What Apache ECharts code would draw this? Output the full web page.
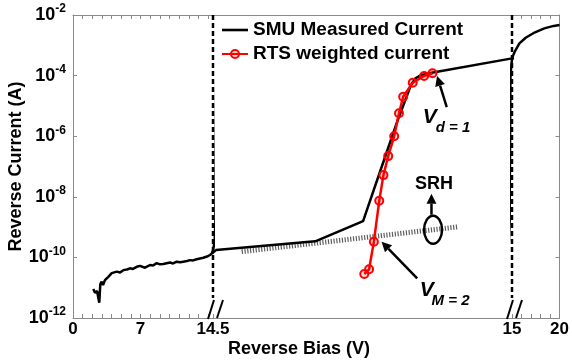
<!DOCTYPE html>
<html>
<head>
<meta charset="utf-8">
<script src="https://cdn.jsdelivr.net/npm/echarts@6/dist/echarts.min.js"></script>
<style>
html, body { margin: 0; padding: 0; background: #fff; }
#chart { width: 572px; height: 362px; }
</style>
</head>
<body>
<div id="chart"></div>
<script>
// SMU measured current: reverse bias (V) and current (A)
const smuBias = [2.10, 2.28, 2.49, 2.72, 2.83, 2.97, 3.11, 3.31, 3.66, 4.01,
    4.53, 4.87, 5.21, 5.59, 5.90, 6.21, 6.60, 6.94, 7.46, 7.98,
    8.29, 8.67, 9.01, 9.35, 10.05, 10.36, 10.74, 11.08, 11.42, 11.81,
    12.12, 12.43, 12.81, 13.50, 13.88, 14.19, 14.5,
    14.505, 14.671, 14.751, 14.786, 14.809, 14.831, 14.839, 14.849, 14.868, 15.0,
    15.29, 15.78, 16.44, 17.42, 18.40, 19.38, 20];
const smuCurrent = [9.1e-12, 6.8e-12, 7.8e-12, 3.2e-12, 1.32e-11, 1.58e-11, 1.23e-11, 1.78e-11, 2.29e-11, 3.02e-11,
    3.39e-11, 3.16e-11, 3.8e-11, 3.98e-11, 4.37e-11, 4.17e-11, 4.9e-11, 5.25e-11, 4.57e-11, 5.62e-11,
    5.37e-11, 6.46e-11, 5.89e-11, 6.03e-11, 6.76e-11, 6.31e-11, 7.24e-11, 6.92e-11, 7.24e-11, 7.59e-11,
    8.13e-11, 7.94e-11, 8.71e-11, 9.77e-11, 1.07e-10, 1.2e-10, 1.45e-10,
    1.74e-10, 3.39e-10, 1.58e-9, 1.64e-7, 3.43e-6, 4.9e-5, 8.3e-5, 1.05e-4, 1.26e-4, 3.7e-4,
    6.2e-4, 1.16e-3, 1.78e-3, 2.69e-3, 3.63e-3, 4.37e-3, 4.68e-3];

// RTS weighted current
const rtsBias = [14.753, 14.761, 14.769, 14.778, 14.785, 14.793, 14.803, 14.811, 14.818, 14.834, 14.853, 14.867];
const rtsCurrent = [2.83e-11, 4.05e-11, 3.3e-10, 7.4e-9, 5.2e-8, 2.2e-7, 1.0e-6, 5.7e-6, 2.0e-5, 5.8e-5, 9.7e-5, 1.19e-4];

// SRH trend line
const srhBias = [14.548, 14.91];
const srhCurrent = [1.55e-10, 1.02e-9];

// axis breaks and labelled ticks
const breakBias = [14.5, 15];
const leftTickLabels = [0, 7, 14.5];
const rightTickLabels = [15, 20];

const FONT = '"Liberation Sans", Arial, sans-serif';
const AXIS_GRAY = '#8a8a8a';

const smuData = smuBias.map((v, i) => [v, smuCurrent[i]]);
const rtsData = rtsBias.map((v, i) => [v, rtsCurrent[i]]);
const srhData = srhBias.map((v, i) => [v, srhCurrent[i]]);

function xAxis(gridIndex, min, max, position, opts) {
    return {
        type: 'value', gridIndex, min, max, position,
        interval: opts.ticks ? 1 : undefined,
        axisLine: { show: true, lineStyle: { color: AXIS_GRAY, width: 1 } },
        axisTick: { show: !!opts.ticks, inside: true, length: 4, lineStyle: { color: AXIS_GRAY } },
        splitLine: { show: false },
        axisLabel: opts.labels ? {
            show: true, showMinLabel: true, showMaxLabel: true, margin: 3,
            color: '#000', fontSize: 17, fontWeight: 'bold', fontFamily: FONT,
            formatter: v => opts.labels.includes(v) ? String(v) : ''
        } : { show: false }
    };
}

function yAxis(gridIndex, opts) {
    return {
        type: 'log', logBase: 10, gridIndex, min: 1e-12, max: 1e-2, interval: 2, splitNumber: 5,
        position: opts.position || 'left',
        show: opts.show !== false,
        axisLine: { show: true, lineStyle: { color: AXIS_GRAY, width: 1 } },
        axisTick: { show: true, inside: true, length: 4, lineStyle: { color: AXIS_GRAY } },
        splitLine: { show: false },
        axisLabel: opts.labels ? {
            show: true, margin: 7,
            formatter: v => '{b|10}{s|' + Math.round(Math.log10(v)) + '}',
            rich: {
                b: { fontSize: 18, fontWeight: 'bold', color: '#000', fontFamily: FONT },
                s: { fontSize: 12, fontWeight: 'bold', color: '#000', fontFamily: FONT, padding: [0, 0, 12, 0] }
            }
        } : { show: false },
        name: opts.name || '',
        nameLocation: 'middle',
        nameGap: 45,
        nameTextStyle: { fontSize: 18, fontWeight: 'bold', color: '#000', fontFamily: FONT }
    };
}

function smuSeries(k) {
    return {
        name: 'SMU Measured Current', type: 'line', xAxisIndex: 2 * k, yAxisIndex: k,
        data: smuData, symbol: 'none', clip: true, z: 3,
        lineStyle: { color: '#000', width: 2.5 }, itemStyle: { color: '#000' }
    };
}

const option = {
    animation: false,
    backgroundColor: '#fff',
    grid: [
        { left: 73, top: 15, width: 140, height: 303 },
        { left: 213, top: 15, width: 299, height: 303 },
        { left: 512, top: 15, width: 51, height: 303 }
    ],
    xAxis: [
        xAxis(0, 0, 14.5, 'bottom', { ticks: true, labels: leftTickLabels }),
        xAxis(0, 0, 14.5, 'top', { ticks: true }),
        xAxis(1, 14.5, 15, 'bottom', {}),
        xAxis(1, 14.5, 15, 'top', {}),
        xAxis(2, 15, 20, 'bottom', { ticks: true, labels: rightTickLabels }),
        xAxis(2, 15, 20, 'top', { ticks: true })
    ],
    yAxis: [
        yAxis(0, { labels: true, name: 'Reverse Current (A)' }),
        yAxis(1, { show: false }),
        yAxis(2, { position: 'right' })
    ],
    legend: {
        data: [
            { name: 'SMU Measured Current', icon: 'path://M0,0 L26,0 L26,2.6 L0,2.6 Z' },
            'RTS weighted current'
        ],
        orient: 'vertical', left: 216, top: 15,
        itemWidth: 26, itemHeight: 10, itemGap: 4,
        selectedMode: false,
        textStyle: { fontSize: 19, fontWeight: 'bold', color: '#000', fontFamily: FONT, lineHeight: 20 }
    },
    series: [
        {
            name: 'SRH', type: 'line', xAxisIndex: 2, yAxisIndex: 1, data: srhData,
            symbol: 'none', z: 2,
            lineStyle: { color: '#5e5e5e', width: 5, type: [1.2, 1.6] }
        },
        smuSeries(0), smuSeries(1), smuSeries(2),
        {
            name: 'RTS weighted current', type: 'line', xAxisIndex: 2, yAxisIndex: 1, data: rtsData,
            symbol: 'circle', symbolSize: 8, z: 4,
            lineStyle: { color: '#f00', width: 2.5 },
            itemStyle: { color: 'rgba(255,0,0,0.15)', borderColor: '#f00', borderWidth: 2 }
        }
    ]
};

const chart = echarts.init(document.getElementById('chart'));
chart.setOption(option);

// decorations: break lines, annotations
const px = (gridIndex, v, i) => chart.convertToPixel({ gridIndex }, [v, i]);

function arrow(x1, y1, x2, y2) {
    const a = Math.atan2(y2 - y1, x2 - x1);
    const len = 10, half = 5;
    const bx = x2 - len * Math.cos(a), by = y2 - len * Math.sin(a);
    const nx = -Math.sin(a) * half, ny = Math.cos(a) * half;
    return [
        { type: 'line', shape: { x1, y1, x2: bx, y2: by }, style: { stroke: '#000', lineWidth: 2.5 }, z: 10 },
        { type: 'polygon', shape: { points: [[x2, y2], [bx + nx, by + ny], [bx - nx, by - ny]] }, style: { fill: '#000' }, z: 10 }
    ];
}

function label(text, x, y, size, italic, align) {
    return {
        type: 'text', x, y, z: 10,
        style: {
            text, fill: '#000', font: (italic ? 'italic ' : '') + 'bold ' + size + 'px ' + FONT,
            align: align || 'left', verticalAlign: 'middle'
        }
    };
}

const graphics = [];
breakBias.forEach((b, k) => {
    const g = k === 0 ? 0 : 2;
    const top = px(g, b, 1e-2);
    const bottom = px(g, b, 1e-12);
    graphics.push({
        type: 'line', z: 9,
        shape: { x1: top[0], y1: top[1], x2: top[0], y2: bottom[1] - 20 },
        style: { stroke: '#000', lineWidth: 2.5, lineDash: [5, 3] }
    });
    [[-5, 1, 1, -18], [4, 0, 10, -18]].forEach(s => {
        graphics.push({
            type: 'line', z: 9,
            shape: { x1: bottom[0] + s[0], y1: bottom[1] + s[1], x2: bottom[0] + s[2], y2: bottom[1] + s[3] },
            style: { stroke: '#000', lineWidth: 2 }
        });
    });
});

// V_d = 1 at the last RTS point
const pd = px(1, rtsBias[rtsBias.length - 1], rtsCurrent[rtsCurrent.length - 1]);
graphics.push(...arrow(pd[0] + 14.3, pd[1] + 33.7, pd[0] + 4.6, pd[1] + 2.7));
graphics.push(label('V', pd[0] - 9.7, pd[1] + 44.2, 21, true));
graphics.push(label('d = 1', pd[0] + 3.3, pd[1] + 54.2, 15, true));

// V_M = 2 at the third RTS point
const pm = px(1, rtsBias[2], rtsCurrent[2]);
graphics.push(...arrow(pm[0] + 43.3, pm[1] + 36.6, pm[0] + 7.7, pm[1]));
graphics.push(label('V', pm[0] + 46, pm[1] + 48.3, 21, true));
graphics.push(label('M = 2', pm[0] + 57.7, pm[1] + 59.3, 15, true));

// SRH ellipse on the trend line
const s1 = px(1, srhBias[0], srhCurrent[0]);
const s2 = px(1, srhBias[1], srhCurrent[1]);
const t = 0.884;
const sc = [s1[0] + t * (s2[0] - s1[0]), s1[1] + t * (s2[1] - s1[1])];
graphics.push({
    type: 'ellipse', z: 10,
    shape: { cx: sc[0], cy: sc[1], rx: 9, ry: 14 },
    style: { fill: 'none', stroke: '#000', lineWidth: 2.5 }
});
graphics.push(...arrow(sc[0] - 1.6, sc[1] - 15, sc[0] - 1.6, sc[1] - 36));
graphics.push(label('SRH', sc[0] + 1, sc[1] - 46, 18, false, 'center'));

// x axis title
graphics.push(label('Reverse Bias (V)', 299, 349, 18, false, 'center'));

chart.setOption({ graphic: graphics });
</script>
</body>
</html>
